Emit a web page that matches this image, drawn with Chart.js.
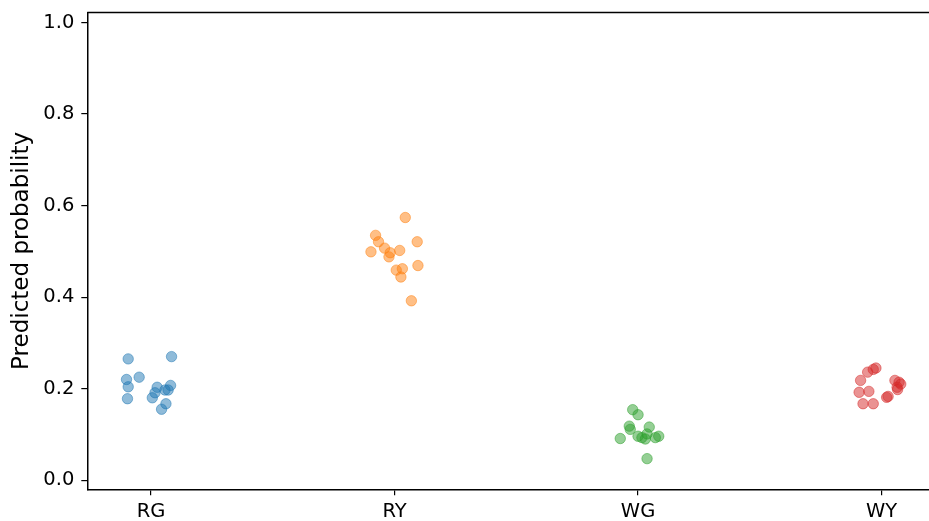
<!DOCTYPE html>
<html lang="en">
<head>
    <meta charset="UTF-8">
    <title>Predicted probability</title>
    <script src="https://cdn.jsdelivr.net/npm/chart.js"></script>
    <style>
        html, body { margin: 0; padding: 0; background: #fff; }
        .chart-container { width: 929px; height: 521px; position: relative; }
    </style>
</head>
<body>
<div class="chart-container">
    <canvas id="stripChart"></canvas>
</div>

<script>
    // categories on the x axis
    const categories = ['RG', 'RY', 'WG', 'WY'];
    const yTicks = [0.0, 0.2, 0.4, 0.6, 0.8, 1.0];

    // horizontal jitter (around the category) and probability
    const rgJitter = [-0.094, 0.084, -0.101, -0.049, -0.094, -0.097, 0.025, 0.005, 0.016, 0.057, 0.080, 0.070, 0.043, 0.061];
    const rgValues = [0.265, 0.270, 0.220, 0.225, 0.204, 0.178, 0.203, 0.180, 0.191, 0.197, 0.207, 0.197, 0.155, 0.167];

    const ryJitter = [0.044, -0.078, -0.066, 0.093, -0.041, 0.021, -0.097, -0.018, -0.023, 0.096, 0.007, 0.032, 0.026, 0.069];
    const ryValues = [0.574, 0.535, 0.521, 0.521, 0.507, 0.502, 0.499, 0.497, 0.488, 0.469, 0.459, 0.462, 0.444, 0.392];

    const wgJitter = [-0.022, 0.000, -0.036, -0.032, 0.046, -0.073, 0.085, 0.071, 0.000, 0.016, 0.030, 0.037, 0.037];
    const wgValues = [0.154, 0.143, 0.118, 0.111, 0.116, 0.091, 0.096, 0.093, 0.096, 0.093, 0.090, 0.101, 0.047];

    const wyJitter = [-0.023, -0.034, -0.057, -0.086, 0.055, 0.072, 0.079, 0.064, -0.092, -0.052, 0.021, 0.066, -0.076, -0.034, 0.027];
    const wyValues = [0.245, 0.242, 0.236, 0.218, 0.218, 0.214, 0.210, 0.203, 0.192, 0.194, 0.181, 0.198, 0.167, 0.167, 0.183];

    const colors = ['31, 119, 180', '255, 127, 14', '44, 160, 44', '214, 39, 40'];
    const jitters = [rgJitter, ryJitter, wgJitter, wyJitter];
    const values = [rgValues, ryValues, wgValues, wyValues];

    const FONT = "'DejaVu Sans', sans-serif";

    const datasets = categories.map(function (cat, i) {
        return {
            label: cat,
            data: values[i].map(function (v, j) { return { x: i + jitters[i][j], y: v }; }),
            backgroundColor: 'rgba(' + colors[i] + ', 0.5)',
            borderColor: 'rgba(' + colors[i] + ', 0.5)',
            borderWidth: 1,
            pointRadius: 5.2,
            pointHoverRadius: 5.2
        };
    });

    // top spine (matplotlib style box)
    const topSpine = {
        id: 'topSpine',
        afterDraw(chart) {
            const a = chart.chartArea;
            const ctx = chart.ctx;
            ctx.save();
            ctx.strokeStyle = '#000';
            ctx.lineWidth = 1.5;
            ctx.beginPath();
            ctx.moveTo(a.left, a.top);
            ctx.lineTo(a.right, a.top);
            ctx.stroke();
            ctx.restore();
        }
    };

    function noPad(scale) {
        scale.paddingTop = 0;
        scale.paddingBottom = 0;
        scale.paddingLeft = 0;
        scale.paddingRight = 0;
    }

    const config = {
        type: 'scatter',
        data: { datasets: datasets },
        options: {
            responsive: false,
            animation: false,
            layout: { autoPadding: false, padding: { top: 12.5, right: 0, left: 0, bottom: 0 } },
            plugins: {
                legend: { display: false },
                tooltip: { enabled: false }
            },
            scales: {
                x: {
                    type: 'linear',
                    min: -0.262,
                    max: 3.195,
                    afterBuildTicks: function (scale) {
                        scale.ticks = categories.map(function (c, i) { return { value: i }; });
                    },
                    afterFit: function (scale) { scale.height = 31.7; noPad(scale); },
                    ticks: {
                        color: '#000',
                        padding: 5,
                        font: { family: FONT, size: 19.5 },
                        callback: function (v) { return categories[v]; }
                    },
                    grid: { drawOnChartArea: false, drawTicks: true, tickLength: 6, color: '#000', lineWidth: 1.2 },
                    border: { display: true, color: '#000', width: 1.5 }
                },
                y: {
                    min: -0.02,
                    max: 1.022,
                    afterBuildTicks: function (scale) {
                        scale.ticks = yTicks.map(function (v) { return { value: v }; });
                    },
                    afterFit: function (scale) { scale.width = 87.3; noPad(scale); },
                    ticks: {
                        color: '#000',
                        padding: 7,
                        font: { family: FONT, size: 19.5 },
                        callback: function (v) { return v.toFixed(1); }
                    },
                    title: {
                        display: true,
                        text: 'Predicted probability',
                        color: '#000',
                        font: { family: FONT, size: 23 },
                        padding: { top: 8, bottom: 0 }
                    },
                    grid: { drawOnChartArea: false, drawTicks: true, tickLength: 6, color: '#000', lineWidth: 1.2 },
                    border: { display: true, color: '#000', width: 1.5 }
                }
            }
        },
        plugins: [topSpine]
    };

    const canvas = document.getElementById('stripChart');
    canvas.width = 929;
    canvas.height = 521;
    var stripChart = new Chart(canvas, config);
</script>
</body>
</html>
